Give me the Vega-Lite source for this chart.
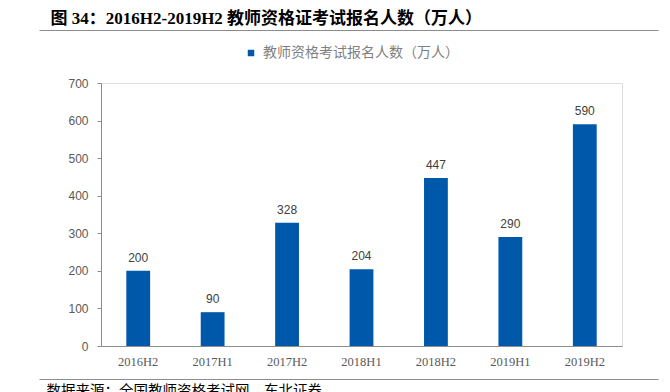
{
  "$schema": "https://vega.github.io/schema/vega-lite/v6.json",
  "background": "white",
  "autosize": {"type": "none"},
  "padding": {"left": 101, "top": 83, "right": 48, "bottom": 46},
  "width": 521,
  "height": 263,
  "data": {
    "values": [
      {"period": "2016H2", "value": 200},
      {"period": "2017H1", "value": 90},
      {"period": "2017H2", "value": 328},
      {"period": "2018H1", "value": 204},
      {"period": "2018H2", "value": 447},
      {"period": "2019H1", "value": 290},
      {"period": "2019H2", "value": 590}
    ]
  },
  "resolve": {"scale": {"x": "independent"}, "axis": {"x": "independent"}},
  "layer": [
    {
      "encoding": {
        "x": {
          "field": "period",
          "type": "nominal",
          "sort": null,
          "scale": {"paddingInner": 0.68, "paddingOuter": 0.34},
          "axis": {
            "orient": "bottom",
            "title": null,
            "labelAngle": 0,
            "ticks": false,
            "tickSize": 0,
            "labelPadding": 9,
            "labelFont": "Liberation Serif",
            "labelFontSize": 12.5,
            "labelColor": "#595959",
            "domainColor": "#8c8c8c",
            "domainWidth": 1,
            "grid": false
          }
        },
        "y": {
          "field": "value",
          "type": "quantitative",
          "scale": {"domain": [0, 700], "nice": false},
          "axis": {
            "title": null,
            "values": [0, 100, 200, 300, 400, 500, 600, 700],
            "grid": false,
            "tickSize": 4,
            "tickColor": "#8c8c8c",
            "domainColor": "#8c8c8c",
            "labelPadding": 9,
            "labelFont": "Liberation Sans",
            "labelFontSize": 12,
            "labelColor": "#595959"
          }
        }
      },
      "layer": [
        {
          "mark": {"type": "bar", "color": "#0058AA"},
          "encoding": {
            "color": {
              "datum": "教师资格考试报名人数（万人）",
              "type": "nominal",
              "scale": {"range": ["#0058AA"]},
              "legend": {
                "title": null,
                "orient": "none",
                "legendX": 143,
                "legendY": -37,
                "padding": 0,
                "symbolType": "square",
                "symbolSize": 42,
                "symbolStrokeWidth": 0,
                "labelFont": "Noto Sans CJK SC",
                "labelFontSize": 14,
                "labelColor": "#7f7f7f",
                "labelOffset": 5,
                "labelLimit": 400
              }
            }
          }
        },
        {
          "mark": {
            "type": "text",
            "baseline": "alphabetic",
            "dy": -9,
            "font": "Liberation Sans",
            "fontSize": 12,
            "color": "#404040"
          },
          "encoding": {"text": {"field": "value", "type": "quantitative"}}
        }
      ]
    },
    {
      "mark": {"type": "text", "text": ""},
      "encoding": {
        "x": {
          "datum": 0,
          "type": "quantitative",
          "scale": {"domain": [0, 1], "range": [0, 619]},
          "axis": {
            "orient": "top",
            "translate": -61.5,
            "offset": -9,
            "domainColor": "#8c8c8c",
            "domainWidth": 1,
            "ticks": false,
            "labels": false,
            "grid": false,
            "title": "图 34：2016H2-2019H2 教师资格证考试报名人数（万人）",
            "titleX": 11,
            "titleY": -3,
            "titleAlign": "left",
            "titleAnchor": "start",
            "titleBaseline": "bottom",
            "titleFont": "Liberation Serif, Noto Sans CJK SC",
            "titleFontSize": 17,
            "titleFontWeight": "bold",
            "titleColor": "#000000"
          }
        }
      }
    },
    {
      "mark": {"type": "text", "text": ""},
      "encoding": {
        "x": {
          "datum": 0,
          "type": "quantitative",
          "scale": {"domain": [0, 1], "range": [0, 619]},
          "axis": {
            "orient": "bottom",
            "translate": -61.5,
            "offset": 95,
            "domainColor": "#8c8c8c",
            "domainWidth": 1,
            "ticks": false,
            "labels": false,
            "grid": false,
            "title": "数据来源：全国教师资格考试网，东北证券",
            "titleX": 7,
            "titleY": 5,
            "titleAlign": "left",
            "titleAnchor": "start",
            "titleBaseline": "top",
            "titleFont": "Noto Sans CJK SC",
            "titleFontSize": 14.5,
            "titleFontWeight": "normal",
            "titleColor": "#000000"
          }
        }
      }
    }
  ]
}
